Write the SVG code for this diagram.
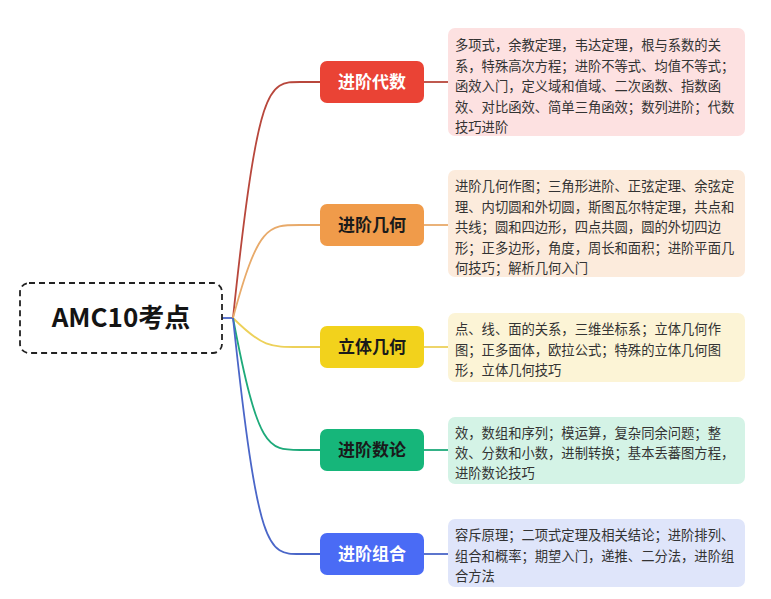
<svg xmlns="http://www.w3.org/2000/svg" width="771" height="599" viewBox="0 0 771 599">
<style>
.t{font-family:"Noto Sans CJK SC","Noto Sans",sans-serif;}
.root{font-size:26px;font-weight:700;fill:#141414;}
.br{font-size:17px;font-weight:700;}
.d{font-size:13.3px;fill:#333333;}
.c{fill:none;stroke-width:1.8;}
</style>
<rect width="771" height="599" fill="#ffffff"/>
<g id="connectors">
<path d="M222,318 L233,318" class="c" stroke="#4a66c8"/>
<path d="M233,318 C258,82 268,82 300,82 L320,82" class="c" stroke="#b8473c"/>
<path d="M233,318 C258,225 268,225 300,225 L320,225" class="c" stroke="#e8aa6a"/>
<path d="M233,318 C262,347 270,347 300,347 L320,347" class="c" stroke="#edd15a"/>
<path d="M233,318 C258,450 268,450 300,450 L320,450" class="c" stroke="#1eaa7a"/>
<path d="M233,318 C258,554 268,554 300,554 L320,554" class="c" stroke="#4a66c8"/>
<path d="M424,82 L448,82" class="c" stroke="#b8473c"/>
<path d="M424,225 L448,225" class="c" stroke="#e8aa6a"/>
<path d="M424,347 L448,347" class="c" stroke="#edd15a"/>
<path d="M424,450 L448,450" class="c" stroke="#1eaa7a"/>
<path d="M424,554 L448,554" class="c" stroke="#4a66c8"/>
</g>
<g id="root">
<rect x="20" y="283" width="202" height="70" rx="9" fill="#ffffff" stroke="#222222" stroke-width="1.8" stroke-dasharray="6,4"/>
<text x="121" y="327" text-anchor="middle" class="t root">AMC10考点</text>
</g>
<g id="n1">
<rect x="320" y="61" width="104" height="42" rx="7" fill="#ea4335"/>
<text x="372" y="88" text-anchor="middle" class="t br" fill="#ffffff">进阶代数</text>
</g>
<g id="n2">
<rect x="320" y="204" width="104" height="42" rx="7" fill="#f09b4a"/>
<text x="372" y="231" text-anchor="middle" class="t br" fill="#1a1a1a">进阶几何</text>
</g>
<g id="n3">
<rect x="320" y="326" width="104" height="42" rx="7" fill="#f2d21c"/>
<text x="372" y="353" text-anchor="middle" class="t br" fill="#1a1a1a">立体几何</text>
</g>
<g id="n4">
<rect x="320" y="429" width="104" height="42" rx="7" fill="#16b67a"/>
<text x="372" y="456" text-anchor="middle" class="t br" fill="#1a1a1a">进阶数论</text>
</g>
<g id="n5">
<rect x="320" y="533" width="104" height="42" rx="7" fill="#4a6bf5"/>
<text x="372" y="560" text-anchor="middle" class="t br" fill="#ffffff">进阶组合</text>
</g>
<g id="d1">
<rect x="448" y="28" width="297" height="108" rx="7" fill="#fde1e1"/>
<text class="t d" x="455">
<tspan x="455" y="50">多项式，余教定理，韦达定理，根与系数的关</tspan>
<tspan x="455" y="71">系，特殊高次方程；进阶不等式、均值不等式；</tspan>
<tspan x="455" y="91">函效入门，定义域和值域、二次函数、指数函</tspan>
<tspan x="455" y="112">效、对比函效、简单三角函效；数列进阶；代数</tspan>
<tspan x="455" y="132">技巧进阶</tspan>
</text>
</g>
<g id="d2">
<rect x="448" y="170" width="297" height="107" rx="7" fill="#fcebdc"/>
<text class="t d" x="455">
<tspan x="455" y="191">进阶几何作图；三角形进阶、正弦定理、余弦定</tspan>
<tspan x="455" y="212">理、内切圆和外切圆，斯图瓦尔特定理，共点和</tspan>
<tspan x="455" y="232">共线；圆和四边形，四点共圆，圆的外切四边</tspan>
<tspan x="455" y="253">形；正多边形，角度，周长和面积；进阶平面几</tspan>
<tspan x="455" y="273">何技巧；解析几何入门</tspan>
</text>
</g>
<g id="d3">
<rect x="448" y="313" width="297" height="69" rx="7" fill="#fcf4d6"/>
<text class="t d" x="455">
<tspan x="455" y="334">点、线、面的关系，三维坐标系；立体几何作</tspan>
<tspan x="455" y="355">图；正多面体，欧拉公式；特殊的立体几何图</tspan>
<tspan x="455" y="375">形，立体几何技巧</tspan>
</text>
</g>
<g id="d4">
<rect x="448" y="417" width="297" height="67" rx="7" fill="#d4f3e6"/>
<text class="t d" x="455">
<tspan x="455" y="438">效，数组和序列；模运算，复杂同余问题；整</tspan>
<tspan x="455" y="458">效、分数和小数，进制转换；基本丢蕃图方程，</tspan>
<tspan x="455" y="478">进阶数论技巧</tspan>
</text>
</g>
<g id="d5">
<rect x="448" y="519" width="297" height="68" rx="7" fill="#dfe5fa"/>
<text class="t d" x="455">
<tspan x="455" y="540">容斥原理；二项式定理及相关结论；进阶排列、</tspan>
<tspan x="455" y="561">组合和概率；期望入门，递推、二分法，进阶组</tspan>
<tspan x="455" y="581">合方法</tspan>
</text>
</g>
</svg>
